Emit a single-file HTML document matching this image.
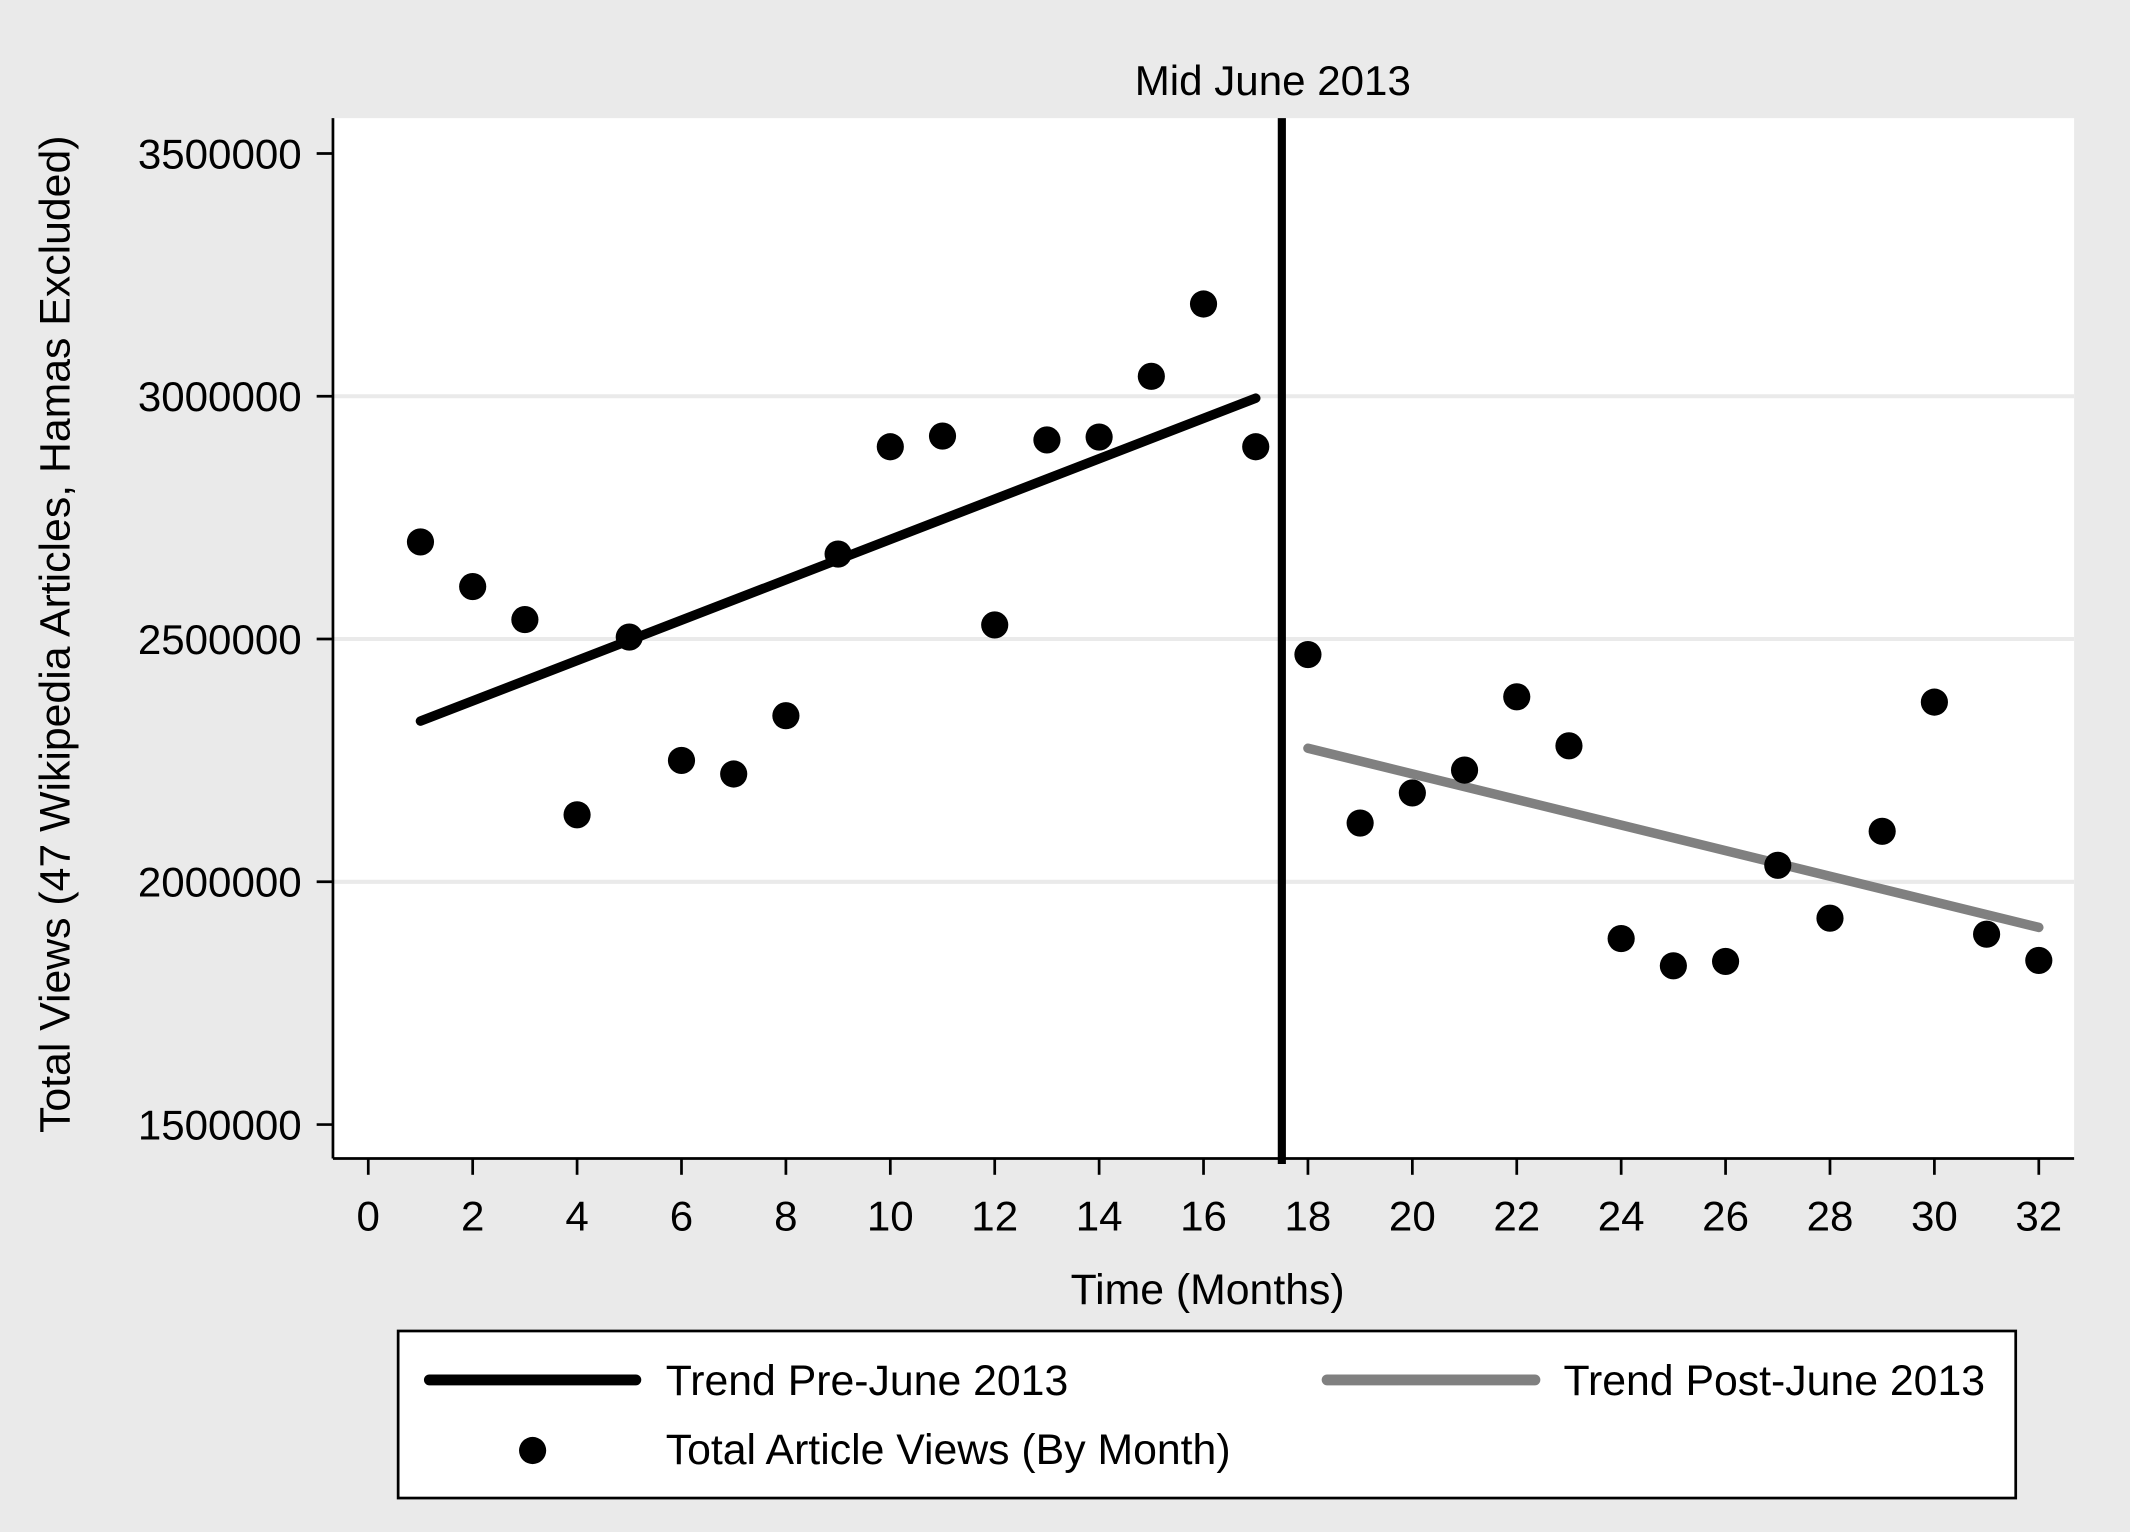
<!DOCTYPE html>
<html><head><meta charset="utf-8"><style>
html,body{margin:0;padding:0;background:#eaeaea;}
svg{display:block;font-family:"Liberation Sans",Arial,sans-serif;}
</style></head><body>
<svg id="chart" width="2130" height="1532" viewBox="0 0 1568 1128" xmlns="http://www.w3.org/2000/svg">
<rect x="0" y="0" width="1568" height="1128" fill="#eaeaea"/>
<rect x="245" y="87" width="1282" height="766" fill="#ffffff"/>
<g id="grid"></g><g id="axes"></g><g id="marks"></g>
<text x="937" y="70" font-size="31" text-anchor="middle" fill="#000">Mid June 2013</text>
<text x="889" y="960" font-size="31.5" text-anchor="middle" fill="#000">Time (Months)</text>
<text transform="translate(51,467) rotate(-90)" font-size="31.5" text-anchor="middle" fill="#000">Total Views (47 Wikipedia Articles, Hamas Excluded)</text>
<g>
<rect x="293" y="980" width="1191" height="123" fill="#fff" stroke="#000" stroke-width="2"/>
<line x1="316" y1="1016" x2="468" y2="1016" stroke="#000" stroke-width="8" stroke-linecap="round"/>
<text x="490" y="1027" font-size="31.5">Trend Pre-June 2013</text>
<line x1="977" y1="1016" x2="1130" y2="1016" stroke="#808080" stroke-width="8" stroke-linecap="round"/>
<text x="1151" y="1027" font-size="31.5">Trend Post-June 2013</text>
<circle cx="392" cy="1068" r="10" fill="#000"/>
<text x="490" y="1078" font-size="31.5">Total Article Views (By Month)</text>
</g>
</svg>
<script>
const months=[1,2,3,4,5,6,7,8,9,10,11,12,13,14,15,16,17,18,19,20,21,22,23,24,25,26,27,28,29,30,31,32];
const views=[2700000,2608000,2540000,2138000,2504000,2250000,2222000,2342000,2675000,2896000,2918000,2529000,2910000,2916000,3041000,3190000,2896000,2468000,2121000,2183000,2230000,2381000,2280000,1883000,1827000,1836000,2034000,1925000,2104000,2370000,1892000,1838000];
const preTrendX=[1,17];
const preTrendY=[2331000,2996000];
const postTrendX=[18,32];
const postTrendY=[2275000,1906000];
const xTicks=[0,2,4,6,8,10,12,14,16,18,20,22,24,26,28,30,32];
const yTicks=[1500000,2000000,2500000,3000000,3500000];
const gridVals=[2000000,2500000,3000000];
const breakMonth=17.5;

const NS="http://www.w3.org/2000/svg";
const X=v=>271+v*(1230/32);
const Y=v=>113+(3500000-v)/2000000*715;
function mk(tag,attrs,parent,txt){const e=document.createElementNS(NS,tag);for(const k in attrs)e.setAttribute(k,attrs[k]);if(txt!==undefined)e.textContent=txt;parent.appendChild(e);return e;}
const grid=document.getElementById('grid'),axes=document.getElementById('axes'),marks=document.getElementById('marks');
gridVals.forEach(v=>{const l=mk('line',{x1:245,x2:1527,y1:Y(v),y2:Y(v),stroke:'#eaeaea','stroke-width':3},grid);

});
let a=mk('line',{x1:245,x2:245,y1:87,y2:853,stroke:'#000','stroke-width':2},axes);


a=mk('line',{x1:245,x2:1527,y1:853,y2:853,stroke:'#000','stroke-width':2},axes);


yTicks.forEach(v=>{const t=mk('line',{x1:233,x2:245,y1:Y(v),y2:Y(v),stroke:'#000','stroke-width':2},axes);


const s=mk('text',{x:222,y:Y(v)+11,'font-size':31,'text-anchor':'end'},axes,String(v));

});
xTicks.forEach(v=>{const t=mk('line',{x1:X(v),x2:X(v),y1:853,y2:865,stroke:'#000','stroke-width':2},axes);


const s=mk('text',{x:X(v),y:906,'font-size':31,'text-anchor':'middle'},axes,String(v));

});
let vl=mk('line',{x1:X(breakMonth),x2:X(breakMonth),y1:87,y2:857,stroke:'#000','stroke-width':6},marks);


let pre=mk('line',{x1:X(preTrendX[0]),y1:Y(preTrendY[0]),x2:X(preTrendX[1]),y2:Y(preTrendY[1]),stroke:'#000','stroke-width':7,'stroke-linecap':'round'},marks);


let post=mk('line',{x1:X(postTrendX[0]),y1:Y(postTrendY[0]),x2:X(postTrendX[1]),y2:Y(postTrendY[1]),stroke:'#808080','stroke-width':7,'stroke-linecap':'round'},marks);


months.forEach((m,i)=>{const c=mk('circle',{cx:X(m),cy:Y(views[i]),r:10,fill:'#000'},marks);

});
</script>
</body></html>
